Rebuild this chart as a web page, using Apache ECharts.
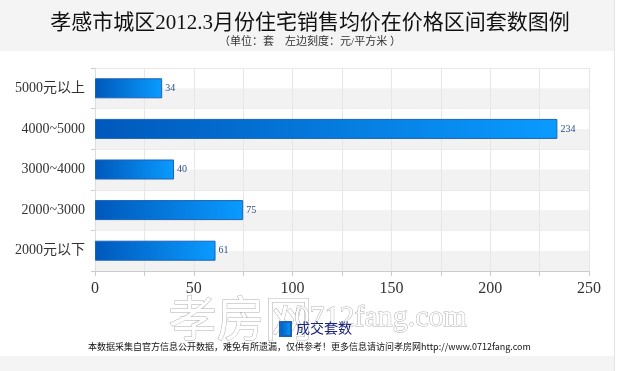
<!DOCTYPE html>
<html><head><meta charset="utf-8">
<script src="https://cdn.jsdelivr.net/npm/echarts@6/dist/echarts.min.js"></script>
<style>html,body{margin:0;padding:0;background:#fff}#c{width:620px;height:371px}</style>
</head><body><div id="c"></div>
<script>
var categories = ['2000元以下', '2000~3000', '3000~4000', '4000~5000', '5000元以上'];
var values = [61, 75, 40, 234, 34];
var seriesName = '成交套数';
var xTicks = [0, 50, 100, 150, 200, 250];
var titleText = '孝感市城区2012.3月份住宅销售均价在价格区间套数图例';
var subText = '（单位：套　左边刻度：元/平方米 ）';
var footText = '本数据采集自官方信息公开数据，难免有所遗漏，仅供参考！更多信息请访问孝房网http://www.0712fang.com';

var serif = '"Liberation Serif","DejaVu Serif","Noto Sans CJK SC",serif';
var halves = [];
for (var i = 0; i < categories.length * 2; i++) halves.push('');

var chart = echarts.init(document.getElementById('c'));
chart.setOption({
  animation: false,
  backgroundColor: '#fff',
  title: {
    text: titleText, subtext: subText, left: 'center', top: 8, itemGap: 3,
    textStyle: {fontFamily: serif, fontSize: 21, fontWeight: 'normal', color: '#111'},
    subtextStyle: {fontFamily: serif, fontSize: 11, color: '#333'}
  },
  graphic: [
    {type: 'rect', z: -10, shape: {x: 0, y: 0, width: 614, height: 51}, style: {fill: '#f4f4f4'}},
    {type: 'rect', z: -10, shape: {x: 0, y: 356, width: 614, height: 15}, style: {fill: '#f4f4f4'}},
    {type: 'line', z: -10, shape: {x1: 614.5, y1: 0, x2: 614.5, y2: 371}, style: {stroke: '#e4e4e4', lineWidth: 1}},
    {type: 'text', z: 1, left: 168, top: 293, style: {text: '孝房网', font: '48px "Noto Sans CJK SC"', fill: '#fff', stroke: '#b0b0b0', lineWidth: 1}},
    {type: 'text', z: 1, left: 294, top: 303, style: {text: '0712fang.com', font: '30px "Liberation Serif"', fill: '#fff', stroke: '#b0b0b0', lineWidth: 1}},
    {type: 'text', z: 5, left: 88, top: 342, style: {text: footText, font: '9px "Noto Sans CJK SC"', fill: '#111'}}
  ],
  legend: {
    data: [seriesName], left: 274, top: 316, itemWidth: 11, itemHeight: 14, icon: 'rect', z: 10,
    textStyle: {fontFamily: serif, fontSize: 14, color: '#1a237e'}
  },
  grid: {left: 95, right: 31, top: 68, bottom: 100, containLabel: false},
  xAxis: {
    type: 'value', min: 0, max: 250, interval: 25,
    axisLine: {show: true, lineStyle: {color: '#ccc'}},
    axisTick: {show: true, length: 5, lineStyle: {color: '#ccc'}},
    axisLabel: {
      fontFamily: serif, fontSize: 16, color: '#333', margin: 10,
      formatter: function (v) { return xTicks.indexOf(v) >= 0 ? String(v) : ''; }
    },
    splitLine: {show: true, lineStyle: {color: '#e6e6e6'}}
  },
  yAxis: [
    {
      type: 'category', data: categories, boundaryGap: true,
      axisLine: {show: true, lineStyle: {color: '#ddd'}},
      axisTick: {show: true, length: 4, lineStyle: {color: '#ccc'}},
      axisLabel: {fontFamily: serif, fontSize: 14, color: '#333', margin: 10},
      splitLine: {show: true, lineStyle: {color: '#e8e8e8'}}
    },
    {
      type: 'category', data: halves, position: 'right', z: 0,
      axisLine: {show: false}, axisTick: {show: false}, axisLabel: {show: false},
      splitLine: {show: false},
      splitArea: {show: true, areaStyle: {color: ['#f2f2f2', 'rgba(255,255,255,0)']}}
    }
  ],
  series: [{
    name: seriesName, type: 'bar', yAxisIndex: 0, data: values, barWidth: 20,
    itemStyle: {
      color: new echarts.graphic.LinearGradient(0, 0, 1, 0, [
        {offset: 0, color: '#0058bb'}, {offset: 1, color: '#0a9bff'}
      ]),
      borderColor: '#1b62b8', borderWidth: 1
    },
    label: {show: true, position: 'right', distance: 3, fontFamily: serif, fontSize: 10, color: '#2d4f86'}
  }]
});
</script></body></html>
